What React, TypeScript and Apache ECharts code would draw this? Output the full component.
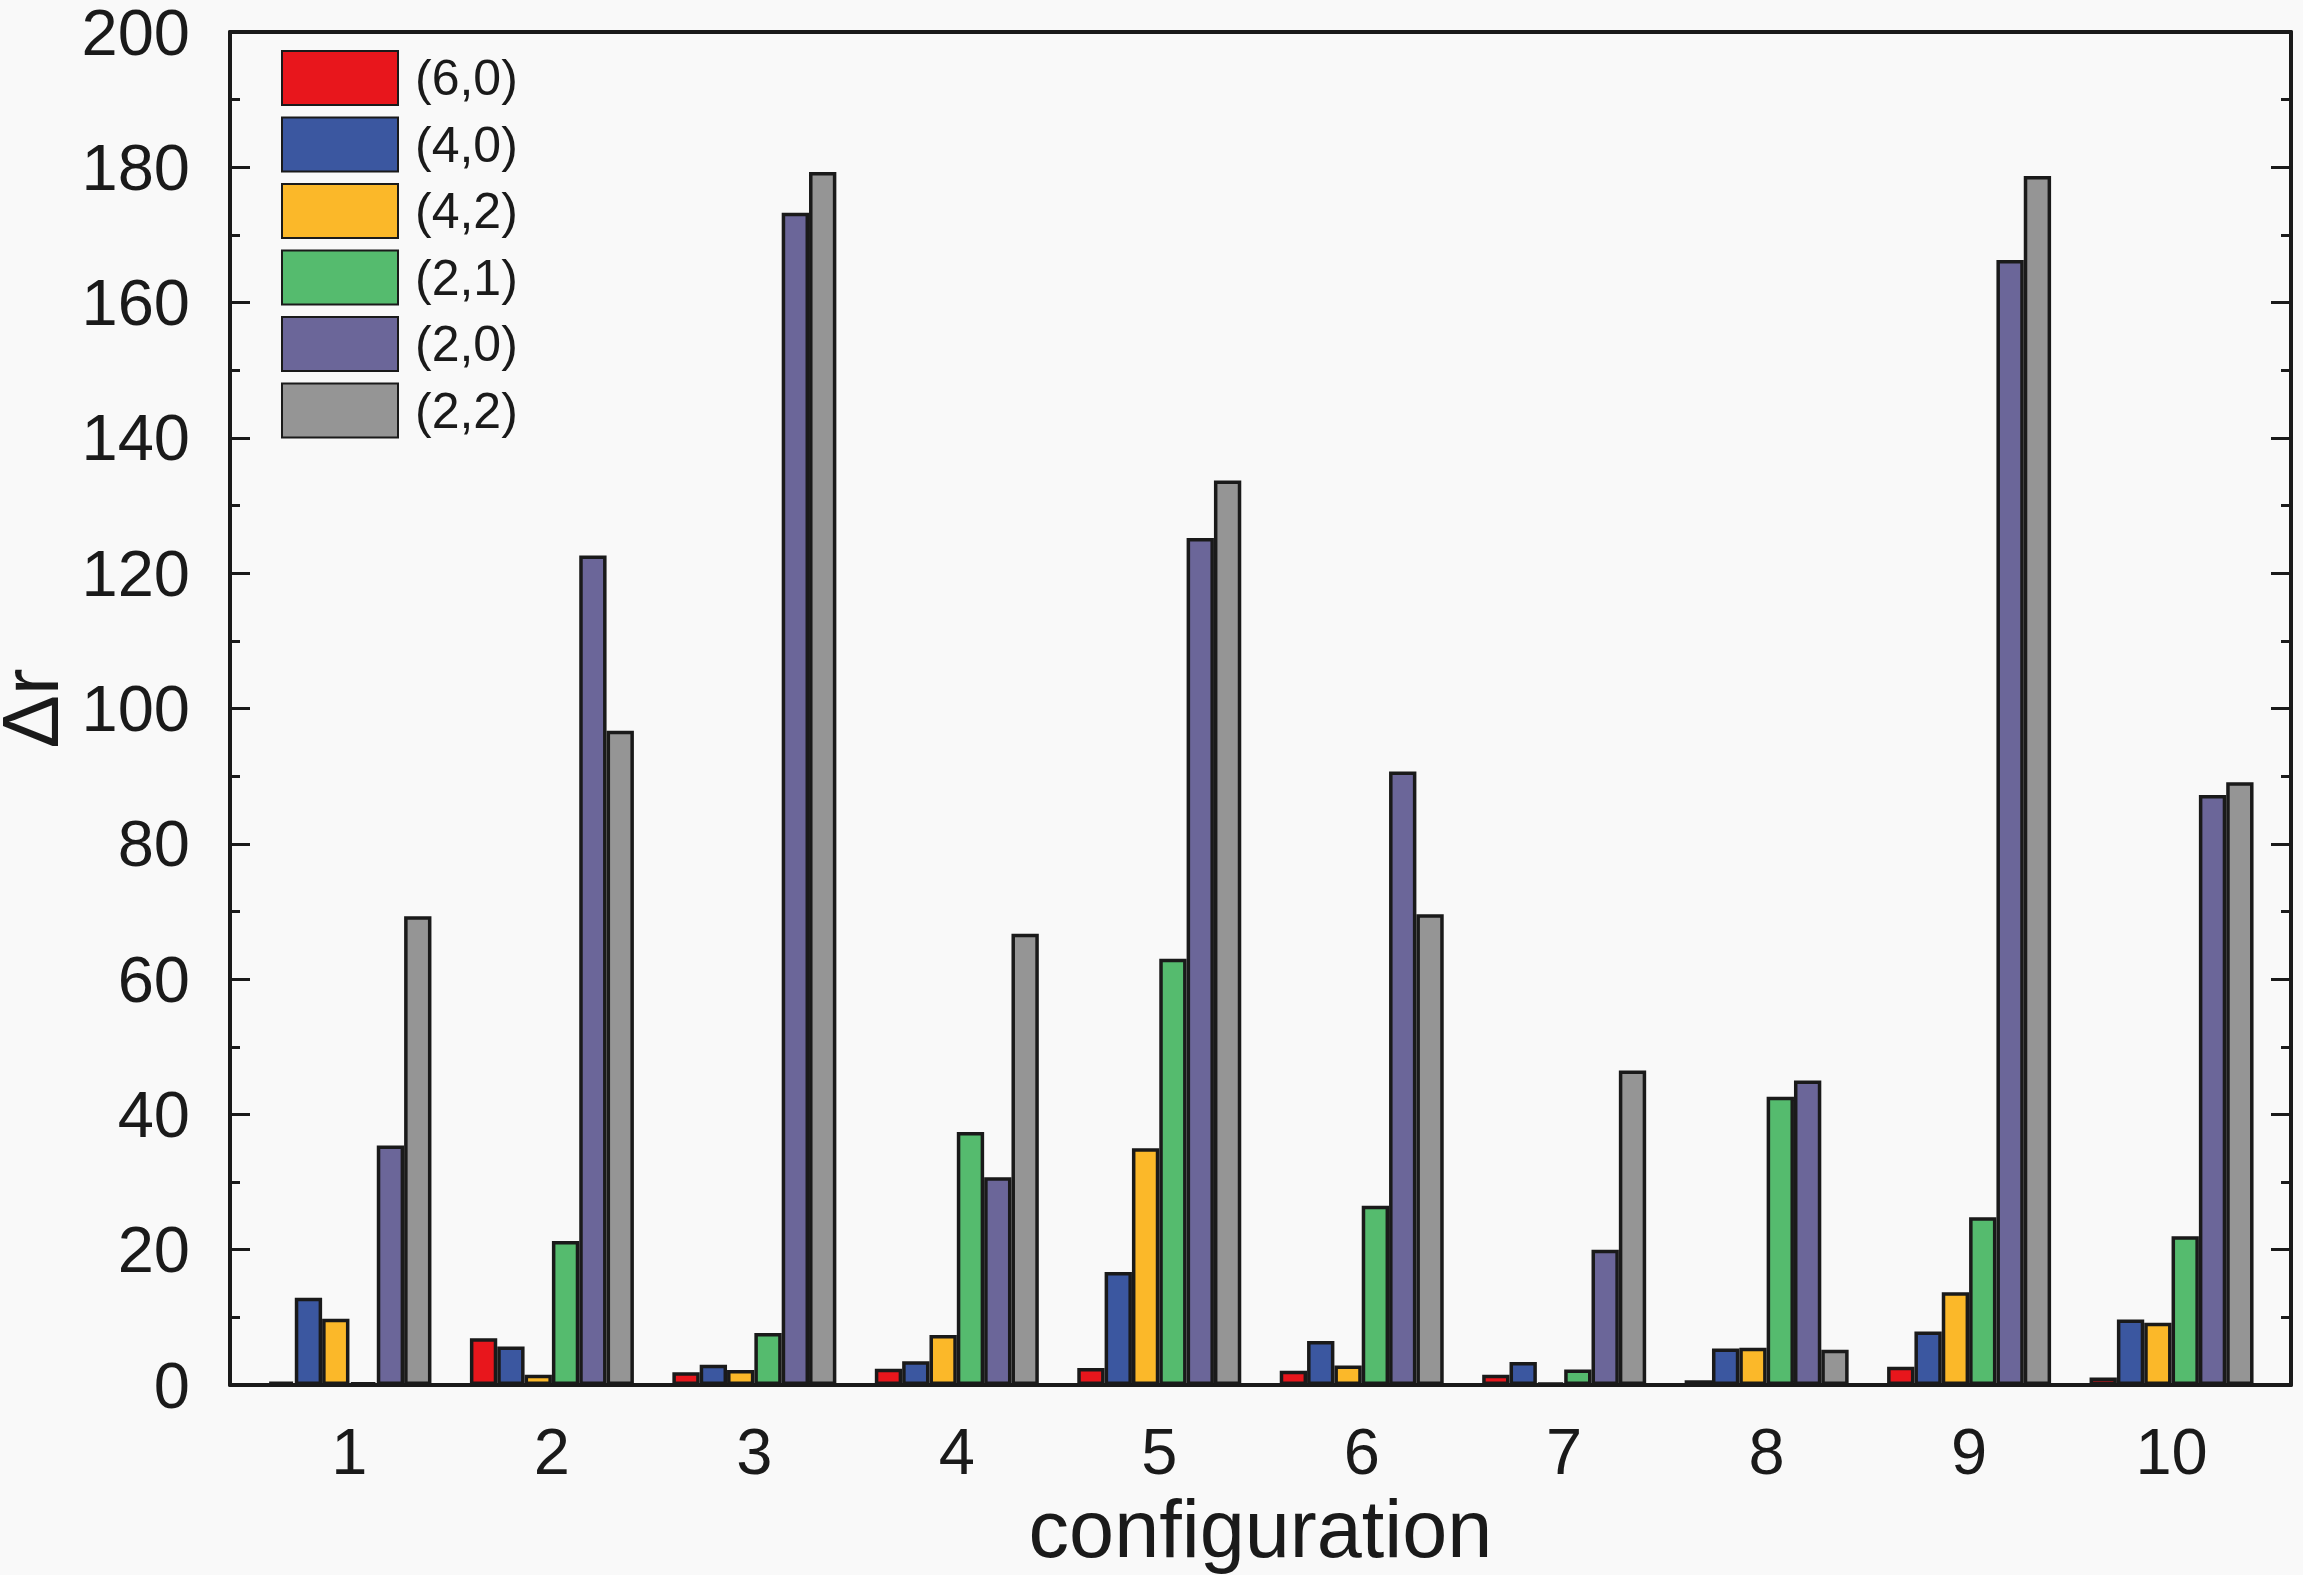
import React, { useEffect, useRef } from "react";
import * as echarts from "echarts";

const configurations = [1, 2, 3, 4, 5, 6, 7, 8, 9, 10];
const seriesNames = ["(6,0)", "(4,0)", "(4,2)", "(2,1)", "(2,0)", "(2,2)"];
const seriesColors = ["#e8161c", "#3b57a0", "#fbb829", "#55bb6e", "#6b6699", "#959595"];

const s60 = [0.5, 6.9, 1.9, 2.4, 2.5, 2.1, 1.5, 0.7, 2.7, 1.1];
const s40 = [12.9, 5.7, 3.0, 3.5, 16.7, 6.5, 3.4, 5.4, 7.9, 9.7];
const s42 = [9.8, 1.5, 2.2, 7.4, 35.0, 2.9, 0.3, 5.5, 13.7, 9.2];
const s21 = [0.4, 21.3, 7.7, 37.4, 63.0, 26.5, 2.3, 42.6, 24.8, 22.0];
const s20 = [35.4, 122.6, 173.3, 30.7, 125.2, 90.7, 20.0, 45.0, 166.3, 87.2];
const s22 = [69.3, 96.7, 179.3, 66.7, 133.7, 69.6, 46.5, 5.2, 178.7, 89.1];

const allSeries = [s60, s40, s42, s21, s20, s22];

const FONT = "Liberation Sans, Arial, sans-serif";
const INK = "#1a1a1a";

const App = () => {
  const chartRef = useRef<HTMLDivElement>(null);

  useEffect(() => {
    if (!chartRef.current) return;
    const chart = echarts.init(chartRef.current, undefined, { renderer: "svg" });

    const frameLine = { show: true, onZero: false, lineStyle: { color: INK, width: 4 } };

    const option: echarts.EChartsOption = {
      animation: false,
      backgroundColor: "#f9f9f9",
      textStyle: { fontFamily: FONT },
      grid: {
        left: 230,
        right: 12,
        top: 32,
        bottom: 190,
        containLabel: false,
        outerBoundsMode: "none",
      } as any,
      legend: {
        orient: "vertical",
        left: 281,
        top: 50,
        padding: 0,
        itemWidth: 116,
        itemHeight: 54,
        itemGap: 10.5,
        icon: "rect",
        data: seriesNames,
        textStyle: {
          fontSize: 50,
          lineHeight: 50,
          color: INK,
          fontFamily: FONT,
          padding: [0, 0, 0, 12],
        },
      },
      xAxis: [
        {
          type: "value",
          position: "bottom",
          min: 0.41,
          max: 10.59,
          name: "configuration",
          nameLocation: "middle",
          nameGap: 92,
          nameTextStyle: { fontSize: 81, lineHeight: 76, color: INK, fontFamily: FONT },
          axisLine: frameLine,
          axisTick: { show: false },
          splitLine: { show: false },
          axisLabel: {
            customValues: configurations,
            fontSize: 65,
            color: INK,
            margin: 34,
            fontFamily: FONT,
          },
        },
        {
          type: "value",
          position: "top",
          min: 0.41,
          max: 10.59,
          axisLine: frameLine,
          axisTick: { show: false },
          axisLabel: { show: false },
          splitLine: { show: false },
        },
      ],
      yAxis: [
        {
          type: "value",
          position: "left",
          min: 0,
          max: 200,
          interval: 20,
          name: "Δr",
          nameLocation: "middle",
          nameGap: 154,
          nameTextStyle: { fontSize: 80, lineHeight: 56, color: INK, fontFamily: FONT },
          axisLine: frameLine,
          axisTick: { show: true, inside: true, length: 20, lineStyle: { color: INK, width: 3 } },
          minorTick: { show: true, splitNumber: 2, length: 10, lineStyle: { color: INK, width: 3 } },
          splitLine: { show: false },
          axisLabel: { fontSize: 65, lineHeight: 50, color: INK, margin: 40, fontFamily: FONT },
        },
        {
          type: "value",
          position: "right",
          min: 0,
          max: 200,
          interval: 20,
          axisLine: frameLine,
          axisTick: { show: true, inside: true, length: 20, lineStyle: { color: INK, width: 3 } },
          minorTick: { show: true, splitNumber: 2, length: 10, lineStyle: { color: INK, width: 3 } },
          splitLine: { show: false },
          axisLabel: { show: false },
        },
      ],
      series: seriesNames.map((name, i) => ({
        name,
        type: "bar",
        xAxisIndex: 0,
        yAxisIndex: 0,
        barGap: "0%",
        barCategoryGap: "19%",
        data: configurations.map((c, j) => [c, allSeries[i][j]]),
        itemStyle: { color: seriesColors[i], borderColor: INK, borderWidth: 3.5 },
      })),
    };

    chart.setOption(option);
    return () => chart.dispose();
  }, []);

  return (
    <div
      ref={chartRef}
      style={{ position: "absolute", left: 0, top: 0, width: "2303px", height: "1575px" }}
    />
  );
};

export default App;
